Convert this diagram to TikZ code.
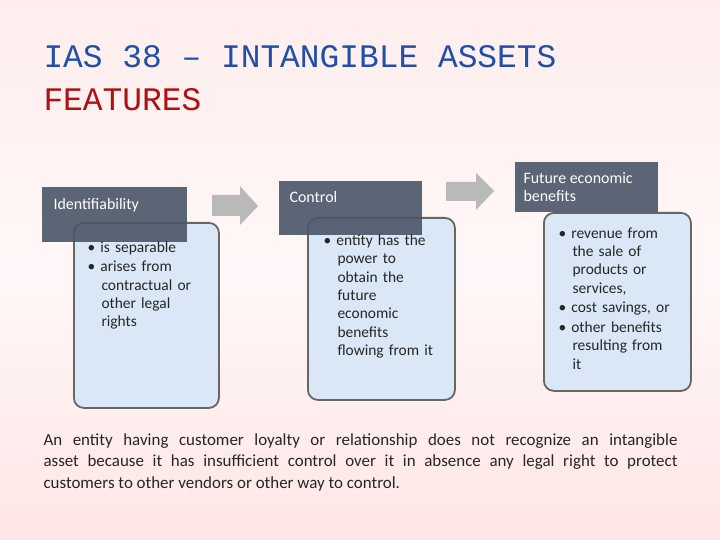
\documentclass[tikz,border=0pt]{standalone}
\usepackage{fontspec}
\setmainfont{Carlito}
\newfontfamily\monof{Liberation Mono}
\definecolor{hdr}{HTML}{4A5668}
\definecolor{lite}{HTML}{D9E7F6}
\definecolor{ttl}{HTML}{1F4FA8}
\definecolor{ttr}{HTML}{B01010}
\begin{document}
\begin{tikzpicture}[x=1bp,y=-1bp,
 hd/.style={fill=hdr,fill opacity=0.9},
 lbox/.style={fill=lite,draw=black!60,line width=1.8bp,rounded corners=10bp,anchor=north west},
 arr/.style={fill=gray!55,draw=none},
 btxt/.style={anchor=north west,align=left,text=black!85,font=\fontsize{15.5}{18.5}\selectfont,text width=#1}]
\shade[top color=red!7!white,bottom color=red!10!white,middle color=red!3!white] (0,0) rectangle (720,540);
\useasboundingbox (0,0) rectangle (720,540);
\node[anchor=west,text=ttl,font=\monof\fontsize{33}{34}\selectfont] (t1) at (40,57) {IAS 38 – INTANGIBLE ASSETS};
\node[anchor=west,text=ttr,font=\monof\fontsize{33}{34}\selectfont] (t2) at (40,100) {FEATURES};
% box 1
\node[lbox,minimum width=145bp,minimum height=185bp] (b1) at (73,222) {};
\fill[hd] (42,187) rectangle (187,242);
\node[anchor=west,text=white,font=\fontsize{16}{18}\selectfont] (h1) at (50,205) {Identifiability};
\node[btxt=125bp] (c1) at (84,238) {\textbullet\ is separable\\[1pt]\textbullet\ arises from\\\hspace*{14bp}contractual or\\\hspace*{14bp}other legal\\\hspace*{14bp}rights};
% box 2
\node[lbox,minimum width=147bp,minimum height=182bp] (b2) at (307,217) {};
\fill[hd] (279,181) rectangle (422,235);
\node[anchor=west,text=white,font=\fontsize{16}{18}\selectfont] (h2) at (286,197) {Control};
\node[btxt=130bp] (c2) at (320,231) {\textbullet\ entity has the\\\hspace*{14bp}power to\\\hspace*{14bp}obtain the\\\hspace*{14bp}future\\\hspace*{14bp}economic\\\hspace*{14bp}benefits\\\hspace*{14bp}flowing from it};
% box 3
\node[lbox,minimum width=147bp,minimum height=178bp] (b3) at (543,212) {};
\fill[hd] (515,162) rectangle (658,212);
\node[anchor=north west,align=left,text=white,font=\fontsize{16}{18}\selectfont] (h3) at (520,169) {Future economic\\benefits};
\node[btxt=135bp] (c3) at (555,224) {\textbullet\ revenue from\\\hspace*{14bp}the sale of\\\hspace*{14bp}products or\\\hspace*{14bp}services,\\[1pt]\textbullet\ cost savings, or\\[1pt]\textbullet\ other benefits\\\hspace*{14bp}resulting from\\\hspace*{14bp}it};
% arrows
\fill[arr] (212,195) -- (240,195) -- (240,186) -- (258,206) -- (240,225) -- (240,216) -- (212,216) -- cycle;
\fill[arr] (446,182) -- (476,182) -- (476,173) -- (494,191) -- (476,210) -- (476,201) -- (446,201) -- cycle;
\node[anchor=north west,text width=634bp,align=justify,text=black!85,font=\fontsize{17}{21.5}\selectfont] (p) at (40,430) {An entity having customer loyalty or relationship does not recognize an intangible\linebreak asset because it has insufficient control over it in absence any legal right to protect\linebreak customers to other vendors or other way to control.};
\end{tikzpicture}
\end{document}
